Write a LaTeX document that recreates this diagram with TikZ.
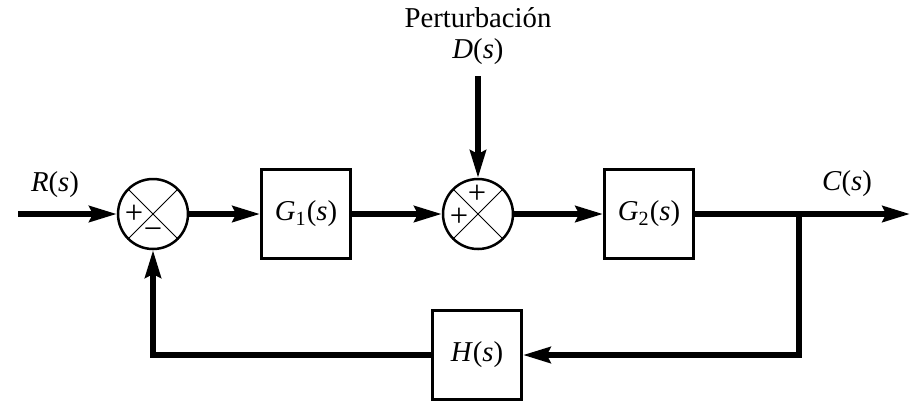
\documentclass[tikz,border=0pt]{standalone}
\usepackage{fontspec}
\setmainfont{Liberation Serif}
\usetikzlibrary{arrows.meta,positioning}
\tikzset{
  block/.style={
    draw,
    line width=1.2pt,
    minimum width=35.6pt,
    minimum height=35.6pt,
    inner sep=0pt
  },
  sumnode/.style={
    draw,
    circle,
    line width=1pt,
    minimum size=28pt,
    inner sep=0pt,
    path picture={
      \draw[line width=0.4pt] (path picture bounding box.north west) -- (path picture bounding box.south east);
      \draw[line width=0.4pt] (path picture bounding box.north east) -- (path picture bounding box.south west);
    }
  },
  line/.style={
    -{Stealth[length=11pt,width=6.4pt,inset=1.5pt]},
    line width=2.2pt
  },
  sign/.style={
    font=\fontsize{13}{13}\selectfont,
    inner sep=0pt
  }
}

\begin{document}
\begin{tikzpicture}[x=0.4pt, y=-0.4pt, font=\fontsize{11.5}{12.5}\selectfont]
  \useasboundingbox (0,0) rectangle (913,402);
  \node[sumnode] (sum1) at (153,214) {};
  \node[block] (G1) at (306,214) {\textit{G}\textsubscript{1}(\textit{s})};
  \node[sumnode] (sum2) at (478,214) {};
  \node[block] (G2) at (649,214) {\textit{G}\textsubscript{2}(\textit{s})};
  \node[block] (H) at (477,355) {\textit{H}(\textit{s})};
  \coordinate (in) at (18,214);
  \coordinate (out) at (910,214);
  \coordinate (branch) at (799,214);
  \coordinate (dist) at (478,76);
  \node (rlabel) at (55,185) {\textit{R}(\textit{s})};
  \node (clabel) at (847,184) {\textit{C}(\textit{s})};
  \node[align=center, above=1pt of dist] (dlabel) {Perturbación\\\textit{D}(\textit{s})};
  % signs at the summing points
  \node[sign] (s1plus) at (134,214) {+};
  \node[sign] (s1minus) at (153,234) {−};
  \node[sign] (s2top) at (477,194) {+};
  \node[sign] (s2left) at (459,217) {+};

  \draw[line] (in) -- (sum1);
  \draw[line] (sum1) -- (G1);
  \draw[line] (G1) -- (sum2);
  \draw[line] (dist) -- (sum2);
  \draw[line] (sum2) -- (G2);
  \draw[line] (G2) -- (out);
  \draw[line] (branch) |- (H);
  \draw[line] (H) -| (sum1);
\end{tikzpicture}
\end{document}
